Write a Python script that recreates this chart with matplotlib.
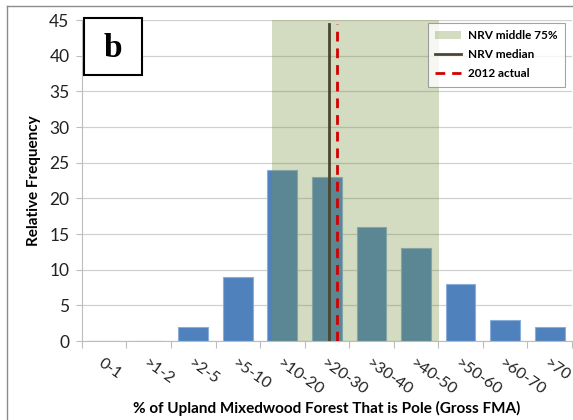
import matplotlib.pyplot as plt
from matplotlib.patches import Patch, Rectangle
from matplotlib.lines import Line2D

plt.rcParams['font.family'] = ['Lato', 'DejaVu Sans']

categories = ['0-1', '>1-2', '>2-5', '>5-10', '>10-20', '>20-30',
              '>30-40', '>40-50', '>50-60', '>60-70', '>70']
frequency = [0, 0, 2, 9, 24, 23, 16, 13, 8, 3, 2]

# NRV range and markers, in category units (boundary scale 0..11)
nrv_low, nrv_high = 4.27, 8.02
nrv_median = 5.55
actual_2012 = 5.73

fig = plt.figure(figsize=(5.73, 4.2), dpi=100)
ax = fig.add_axes([0.143, 0.188, 0.855, 0.764])

# outer chart border (only left/top visible in the reference)
fig.add_artist(plt.Line2D([0.012, 0.012], [0, 0.986], color='#8c8c8c', lw=1, transform=fig.transFigure))
fig.add_artist(plt.Line2D([0.012, 1.0], [0.986, 0.986], color='#8c8c8c', lw=1, transform=fig.transFigure))

centers = [i + 0.5 for i in range(len(categories))]
ax.bar(centers, frequency, width=0.67, color='#4F81BD', edgecolor='#8aaedb', linewidth=0.8, zorder=2)

ax.axvspan(nrv_low, nrv_high, color='#76923C', alpha=0.32, lw=0, zorder=3)
ax.axvline(nrv_median, ymax=44.5 / 45, color='#4a4630', lw=2, zorder=4)
ax.axvline(actual_2012, ymax=44.5 / 45, color='#d40000', lw=2, dashes=(3.5, 2.5), zorder=5)

ax.set_xlim(0, 11)
ax.set_ylim(0, 45)
ax.set_yticks(range(0, 46, 5))
ax.yaxis.grid(True, color='#d0d0d0', lw=0.9, zorder=0)
ax.set_axisbelow(True)

ax.set_xticks(range(0, 12))
ax.set_xticklabels([])
ax.set_xticks(centers, minor=True)
ax.set_xticklabels(categories, minor=True, rotation=-35, ha='left', va='top',
                   rotation_mode='anchor', fontsize=11.5, color='#222222')
ax.tick_params(axis='x', which='major', length=5, color='#bdbdbd', direction='out')
ax.tick_params(axis='x', which='minor', length=0, pad=11)
ax.tick_params(axis='y', length=4, color='#bdbdbd', labelsize=12.5, labelcolor='#222222', pad=5)

for s in ['top', 'right']:
    ax.spines[s].set_visible(False)
ax.spines['left'].set_color('#bdbdbd')
ax.spines['bottom'].set_color('#bdbdbd')

ax.set_ylabel('Relative Frequency', fontsize=11, fontweight='bold', labelpad=6)
ax.set_xlabel('% of Upland Mixedwood Forest That is Pole (Gross FMA)',
              fontsize=11, fontweight='bold', labelpad=2)

# panel letter box
ax.add_patch(Rectangle((0.004, 0.829), 0.118, 0.177, transform=ax.transAxes,
                       fc='white', ec='black', lw=1.5, clip_on=False, zorder=6))
ax.text(0.063, 0.913, 'b', transform=ax.transAxes, ha='center', va='center',
        fontsize=24, fontweight='bold', family='Liberation Serif', zorder=7)

handles = [Patch(facecolor='#76923C', alpha=0.32, edgecolor='none'),
           Line2D([0], [0], color='#4a4630', lw=2),
           Line2D([0], [0], color='#d40000', lw=2, dashes=(3.5, 2.5))]
leg = ax.legend(handles, ['NRV middle 75%', 'NRV median', '2012 actual'],
                loc='upper right', bbox_to_anchor=(0.998, 1.01), fancybox=False,
                prop={'weight': 'bold', 'size': 8.5}, handlelength=2.2,
                borderpad=0.6, labelspacing=0.7, handletextpad=0.6)
leg.get_frame().set_edgecolor('#8c8c8c')
leg.get_frame().set_linewidth(0.8)
leg.set_zorder(7)

fig.savefig('out.png', dpi=100)
